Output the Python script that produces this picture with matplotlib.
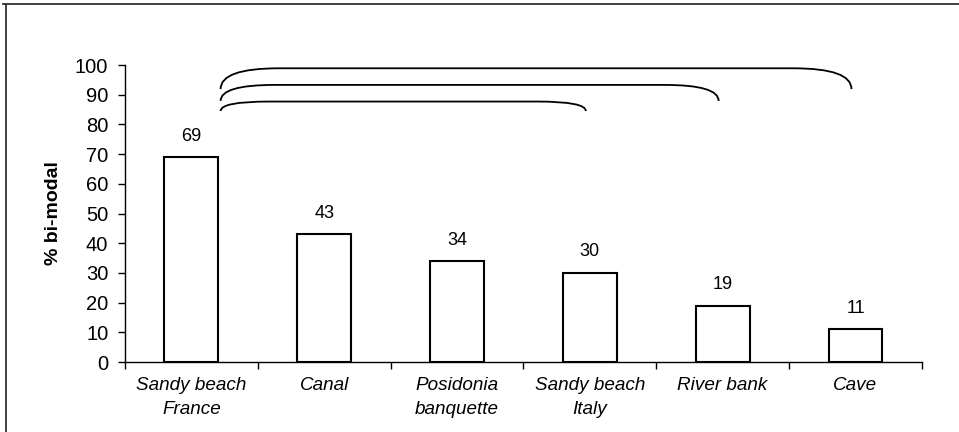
import matplotlib.pyplot as plt
from matplotlib.path import Path
from matplotlib.patches import PathPatch
from matplotlib.lines import Line2D

categories = ["Sandy beach\nFrance", "Canal", "Posidonia\nbanquette",
              "Sandy beach\nItaly", "River bank", "Cave"]
values = [69, 43, 34, 30, 19, 11]

# significance brackets: (from category, to category)
bracket_pairs = [(0, 3), (0, 4), (0, 5)]
bracket_tops = [87.7, 93.3, 98.9]
bracket_drops = [3.2, 5.4, 7.0]

plt.rcParams['font.family'] = ['Liberation Sans', 'DejaVu Sans']

fig = plt.figure(figsize=(9.59, 4.32), dpi=100)
ax = fig.add_axes([0.1303, 0.162, 0.831, 0.6875])

x = list(range(len(categories)))
ax.bar(x, values, width=0.405, color="white", edgecolor="black", linewidth=1.5)

for xi, v in zip(x, values):
    ax.annotate(str(v), (xi, v), xytext=(0, 9), textcoords="offset points",
                ha="center", va="bottom", fontsize=13)

# curly brackets linking the first site to the others
for (a, b), top, drop in zip(bracket_pairs, bracket_tops, bracket_drops):
    x0 = a + 0.22
    x1 = b - 0.03
    r = 0.30 + 0.02 * drop
    verts = [(x0, top - drop), (x0, top), (x0 + r, top),
             (x1 - r, top),
             (x1, top), (x1, top - drop)]
    codes = [Path.MOVETO, Path.CURVE3, Path.CURVE3,
             Path.LINETO, Path.CURVE3, Path.CURVE3]
    ax.add_patch(PathPatch(Path(verts, codes), facecolor="none",
                           edgecolor="black", linewidth=1.3, clip_on=False))

ax.set_xlim(-0.5, len(categories) - 0.5)
ax.set_ylim(0, 100)
ax.set_yticks(range(0, 101, 10))
ax.set_xticks(x)
ax.set_xticklabels(categories, fontstyle="italic", fontsize=13.6, linespacing=1.55)
ax.set_xticks([i - 0.5 for i in range(len(categories) + 1)], minor=True)
ax.tick_params(axis="x", which="major", length=0, pad=11)
ax.tick_params(axis="x", which="minor", length=5, width=1)
ax.tick_params(axis="y", length=5, width=1, labelsize=14.5, pad=7)
ax.set_ylabel("% bi-modal", fontsize=14, fontweight="bold", labelpad=9)

for side in ("top", "right"):
    ax.spines[side].set_visible(False)
for side in ("left", "bottom"):
    ax.spines[side].set_linewidth(1)

# frame lines of the original figure
fig.add_artist(Line2D([3 / 959, 1], [1 - 4 / 432, 1 - 4 / 432],
                      transform=fig.transFigure, color="#333333", linewidth=1.3))
fig.add_artist(Line2D([6 / 959, 6 / 959], [0, 1 - 4 / 432],
                      transform=fig.transFigure, color="#333333", linewidth=1.3))

fig.savefig("out.png", dpi=100)
